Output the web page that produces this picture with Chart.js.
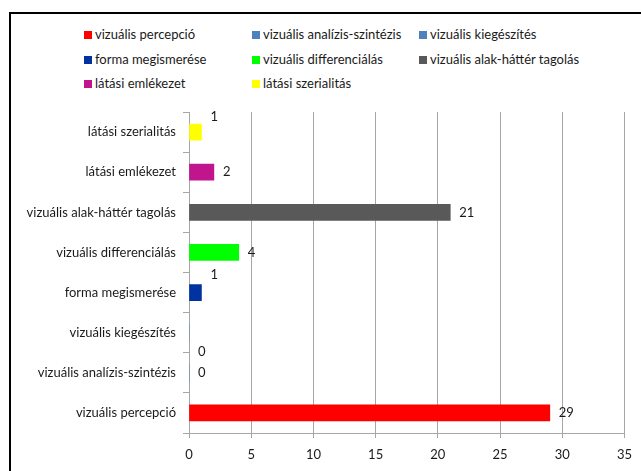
<!DOCTYPE html>
<html>
<head>
<meta charset="utf-8">
<script src="https://cdn.jsdelivr.net/npm/chart.js@4/dist/chart.umd.min.js"></script>
<style>
    body { margin: 0; background: #fff; width: 641px; height: 471px; overflow: hidden; position: relative; font-family: Lato, "Open Sans", sans-serif; }
    #frame { position: absolute; left: 9px; top: 12px; width: 700px; height: 520px; border: 2px solid #000; box-sizing: border-box; }
    #legend { position: absolute; left: 0; top: 0; font-size: 13px; color: #1a1a1a; }
    .item { position: absolute; white-space: nowrap; line-height: 14px; }
    .item span { display: inline-block; width: 8px; height: 8px; margin-right: 3px; }
    #wrap { position: absolute; left: 0; top: 0; width: 641px; height: 471px; }
</style>
</head>
<body>
<div id="frame"></div>
<div id="legend"></div>
<div id="wrap"><canvas id="chart"></canvas></div>
<script>
// categories, bottom to top as in the original
const categories = [
    'vizuális percepció',
    'vizuális analízis-szintézis',
    'vizuális kiegészítés',
    'forma megismerése',
    'vizuális differenciálás',
    'vizuális alak-háttér tagolás',
    'látási emlékezet',
    'látási szerialitás'
];
const values = [29, 0, 0, 1, 4, 21, 2, 1];
const colors = ['#ff0000', '#4f81bd', '#4f81bd', '#0033a0', '#00ff00', '#595959', '#c0158c', '#ffff00'];
const xTicks = [0, 5, 10, 15, 20, 25, 30, 35];

// legend (3 columns, like the Excel one)
const legend = document.getElementById('legend');
const colX = [84, 252, 419];
const rowY = [27, 52, 76];
categories.forEach((name, i) => {
    const el = document.createElement('div');
    el.className = 'item';
    el.style.left = colX[i % 3] + 'px';
    el.style.top = rowY[Math.floor(i / 3)] + 'px';
    el.innerHTML = '<span style="background:' + colors[i] + '"></span>';
    el.appendChild(document.createTextNode(name));
    legend.appendChild(el);
});

// one dataset per series, only filled at its own category
const datasets = categories.map((name, i) => ({
    label: name,
    data: values.map((v, j) => (j === i ? v : null)),
    backgroundColor: colors[i],
    borderWidth: 0,
    barThickness: 16
}));

// value labels next to the bar ends (Excel nudged a few of them up/down)
const labelShift = { 2: 19, 3: -18, 7: -15 };
const valueLabels = {
    id: 'valueLabels',
    afterDatasetsDraw(chart) {
        const ctx = chart.ctx;
        ctx.save();
        ctx.font = '13px Lato, sans-serif';
        ctx.fillStyle = '#1a1a1a';
        ctx.textAlign = 'left';
        ctx.textBaseline = 'middle';
        chart.data.datasets.forEach((ds, i) => {
            const bar = chart.getDatasetMeta(i).data[i];
            if (!bar) return;
            ctx.fillText(String(values[i]), bar.x + 9, bar.y + (labelShift[i] || 0));
        });
        ctx.restore();
    }
};

new Chart(document.getElementById('chart'), {
    type: 'bar',
    data: { labels: categories, datasets: datasets },
    plugins: [valueLabels],
    options: {
        indexAxis: 'y',
        responsive: true,
        maintainAspectRatio: false,
        animation: false,
        layout: { padding: { top: 112, right: 6, bottom: 0, left: 0 } },
        plugins: {
            legend: { display: false },
            tooltip: { enabled: false }
        },
        scales: {
            x: {
                stacked: true,
                min: 0,
                max: 35,
                afterBuildTicks: (scale) => { scale.ticks = xTicks.map(v => ({ value: v })); },
                afterFit: (scale) => { scale.height = 38; },
                grid: { color: '#a6a6a6', tickLength: 5, tickColor: '#a6a6a6' },
                border: { color: '#a6a6a6' },
                ticks: { padding: 9, color: '#1a1a1a', font: { family: 'Lato', size: 13 } }
            },
            y: {
                stacked: true,
                reverse: true,
                afterFit: (scale) => { scale.width = 189; },
                grid: { offset: true, drawOnChartArea: false, tickLength: 6, tickColor: '#a6a6a6' },
                border: { color: '#a6a6a6' },
                ticks: { padding: 7, color: '#1a1a1a', font: { family: 'Lato', size: 13 } }
            }
        }
    }
});
</script>
</body>
</html>
